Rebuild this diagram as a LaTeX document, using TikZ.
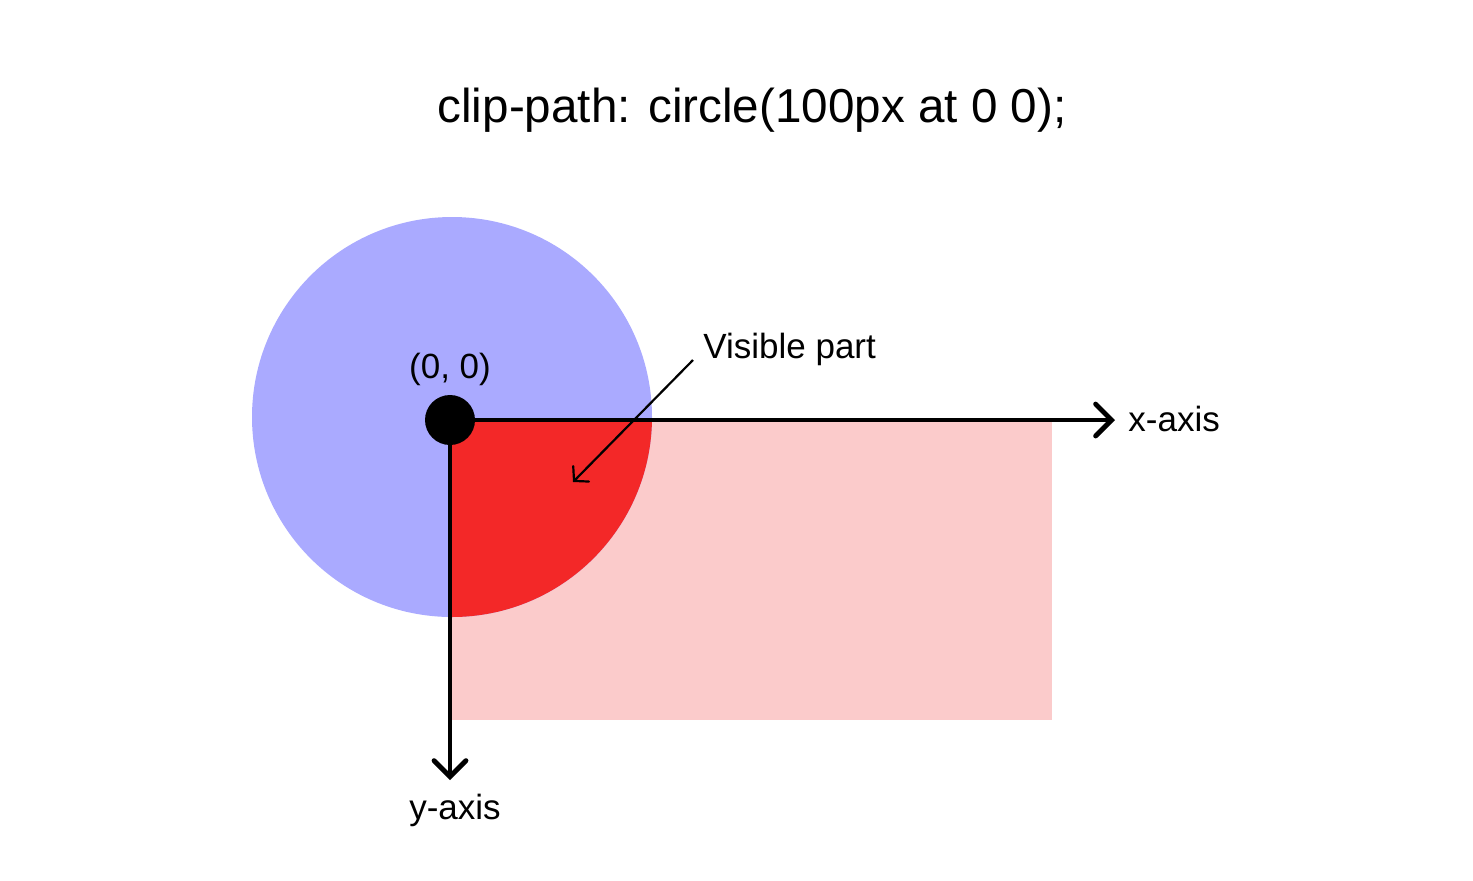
\documentclass[tikz,border=0pt]{standalone}
\usepackage{fontspec}
\setmainfont{Liberation Sans}
\usetikzlibrary{arrows.meta}
\definecolor{cblue}{HTML}{AAAAFF}
\definecolor{cred}{HTML}{F32828}
\definecolor{cpink}{HTML}{FBCBCB}
\tikzset{
  axis/.style={line width=2.4pt, -{Straight Barb[length=8pt,width=16pt,line cap=round]}},
  pointer/.style={line width=1.1pt, -{Straight Barb[length=5pt,width=11pt,line cap=round]}},
  lbl/.style={inner sep=0pt, font=\fontsize{17.5}{20}\selectfont},
}
\begin{document}
\begin{tikzpicture}[x=0.5pt,y=-0.5pt]
\useasboundingbox (0,0) rectangle (1473,880);
% shapes
\fill[cpink] (452,422) rectangle (1052,720);
\fill[cblue] (452,417) circle[radius=200];
\begin{scope}
  \clip (452,417) circle[radius=200];
  \fill[cred] (452,422) rectangle (1052,720);
\end{scope}
% title
\node[inner sep=0pt, font=\fontsize{23.8}{28}\selectfont] (title) at (752,110) {clip-path: circle(100px at 0 0);};
% origin and axes
\coordinate (o) at (450,420);
\coordinate (xend) at (1115,420);
\coordinate (yend) at (450,780);
\draw[axis] (o) -- (xend);
\draw[axis] (o) -- (yend);
\fill[black] (o) circle[radius=25];
\node[lbl] (orig) at (450,369) {(0, 0)};
\node[lbl, anchor=west] (xl) at (1128,419) {x-axis};
\node[lbl] (yl) at (455,810) {y-axis};
\node[lbl, anchor=west] (vis) at (703,349) {Visible part};
\coordinate (pstart) at (693,360);
\coordinate (pend) at (573,482);
\draw[pointer] (pstart) -- (pend);
\end{tikzpicture}
\end{document}
